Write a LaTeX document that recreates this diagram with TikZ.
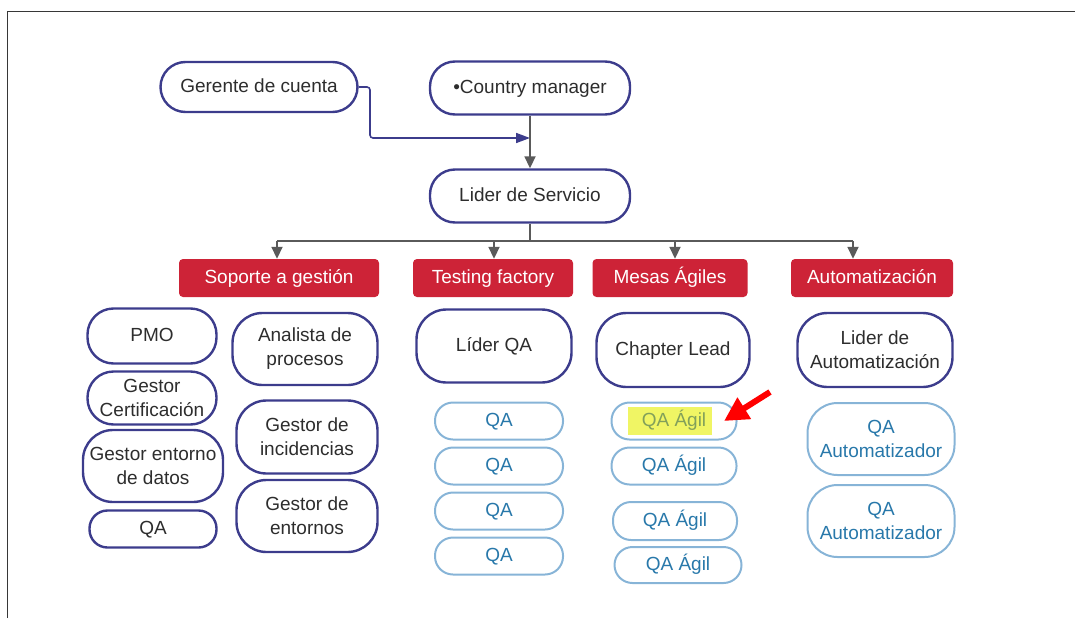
\documentclass[tikz,border=0pt]{standalone}
\usepackage{fontspec}
\setmainfont{Liberation Sans}
\usetikzlibrary{arrows.meta}
\definecolor{indigo}{RGB}{60,60,140}
\definecolor{lblue}{RGB}{135,180,215}
\definecolor{btext}{RGB}{40,120,170}
\definecolor{dtext}{RGB}{45,45,45}
\definecolor{redbox}{RGB}{205,35,55}
\definecolor{gline}{RGB}{90,90,90}
\definecolor{hlyellow}{RGB}{240,245,100}
\definecolor{hltext}{RGB}{130,160,90}
\definecolor{framec}{RGB}{55,55,55}
\tikzset{
  txt/.style={font=\fontsize{19}{24}\selectfont, align=center, inner sep=0pt},
  one/.style={text height=14pt, text depth=4pt},
  darkpill/.style={txt, draw=indigo, line width=2.4pt, text=dtext, rounded corners=#1},
  darkpill/.default=25pt,
  bluepill/.style={txt, draw=lblue, line width=2pt, text=btext, rounded corners=#1},
  bluepill/.default=18pt,
  redhead/.style={txt, one, fill=redbox, text=white, rounded corners=4pt, minimum height=38pt},
  garr/.style={draw=gline, line width=1.8pt, -{Triangle[length=12pt,width=11pt]}},
  gline/.style={draw=gline, line width=1.8pt},
  iarr/.style={draw=indigo, line width=1.6pt, rounded corners=3pt, -{Triangle[length=14pt,width=10pt]}},
  redarr/.style={draw=red, line width=6pt, -{Triangle[length=24pt,width=24pt]}},
}
\begin{document}
\begin{tikzpicture}[x=1pt,y=-1pt]
\useasboundingbox (0,0) rectangle (1075,618);
% frame
\draw[framec, line width=1.6pt] (7.5,618) -- (7.5,11.5) -- (1075,11.5);

% top nodes
\node[darkpill, one, minimum width=197pt, minimum height=50pt] (ger) at (259,87) {Gerente de cuenta};
\node[darkpill, one, minimum width=200pt, minimum height=53pt] (cm) at (530,88) {\textbullet Country manager};
\node[darkpill, one, minimum width=200pt, minimum height=53pt] (lid) at (530,196) {Lider de Servicio};

% red headers
\node[redhead, minimum width=200pt] (sop) at (279,278) {Soporte a gestión};
\node[redhead, minimum width=160pt] (tf) at (493,278) {Testing factory};
\node[redhead, minimum width=155pt] (ma) at (670,278) {Mesas Ágiles};
\node[redhead, minimum width=162pt] (au) at (872,278) {Automatización};

% connectors top
\coordinate (gk1) at (370,87);
\coordinate (gk2) at (370,138);
\coordinate (gk3) at (530,138);
\draw[iarr] (ger.east) -- (gk1) -- (gk2) -- (gk3);
\draw[garr] (cm.south) -- (lid.north);

% bus
\coordinate (bus) at (530,241);
\coordinate (b1) at (277,241);
\coordinate (b2) at (494,241);
\coordinate (b3) at (675,241);
\coordinate (b4) at (853,241);
\draw[gline] (lid.south) -- (bus);
\draw[gline] (b1) -- (b4);
\draw[garr] (b1) -- (b1 |- sop.north);
\draw[garr] (b2) -- (b2 |- tf.north);
\draw[garr] (b3) -- (b3 |- ma.north);
\draw[garr] (b4) -- (b4 |- au.north);

% Soporte a gestion column
\node[darkpill=26pt, one, minimum width=129pt, minimum height=55pt] (pmo) at (152,336) {PMO};
\node[darkpill=26pt, minimum width=129pt, minimum height=53pt] (gc) at (152,398) {Gestor\\Certificación};
\node[darkpill=30pt, minimum width=140pt, minimum height=72pt] (ged) at (153,466) {Gestor entorno\\de datos};
\node[darkpill=18pt, one, minimum width=127pt, minimum height=37pt] (qa0) at (153,529) {QA};
\node[darkpill=30pt, minimum width=145pt, minimum height=72pt] (ap) at (305,349) {Analista de\\procesos};
\node[darkpill=30pt, minimum width=141pt, minimum height=73pt] (gi) at (307,437) {Gestor de\\incidencias};
\node[darkpill=30pt, minimum width=141pt, minimum height=72pt] (ge) at (307,516) {Gestor de\\entornos};

% Testing factory column
\node[darkpill=30pt, one, minimum width=155pt, minimum height=73pt] (lqa) at (494,346) {Líder QA};
\node[bluepill, one, minimum width=128pt, minimum height=37pt] (qa1) at (499,421) {QA};
\node[bluepill, one, minimum width=128pt, minimum height=37pt] (qa2) at (499,466) {QA};
\node[bluepill, one, minimum width=128pt, minimum height=37pt] (qa3) at (499,511) {QA};
\node[bluepill, one, minimum width=128pt, minimum height=37pt] (qa4) at (499,556) {QA};

% Mesas Agiles column
\node[darkpill=30pt, one, minimum width=153pt, minimum height=74pt] (cl) at (673,350) {Chapter Lead};
\node[fill=hlyellow, minimum width=84pt, minimum height=28pt, inner sep=0pt] (hl) at (670,421) {};
\node[bluepill, one, minimum width=125pt, minimum height=37pt, text=hltext] (qg1) at (674,421) {QA Ágil};
\node[bluepill, one, minimum width=125pt, minimum height=37pt] (qg2) at (674,466) {QA Ágil};
\node[bluepill, one, minimum width=124pt, minimum height=38pt] (qg3) at (675,521) {QA Ágil};
\node[bluepill, one, minimum width=127pt, minimum height=36pt] (qg4) at (678,565) {QA Ágil};

% Automatizacion column
\node[darkpill=30pt, minimum width=155pt, minimum height=74pt] (la) at (875,350) {Lider de\\Automatización};
\node[bluepill=30pt, minimum width=147pt, minimum height=72pt] (qz1) at (881,439) {QA\\Automatizador};
\node[bluepill=30pt, minimum width=147pt, minimum height=72pt] (qz2) at (881,521) {QA\\Automatizador};

% red pointer arrow
\coordinate (rtail) at (770,392);
\coordinate (rtip) at (724,421);
\draw[redarr] (rtail) -- (rtip);
\end{tikzpicture}
\end{document}
